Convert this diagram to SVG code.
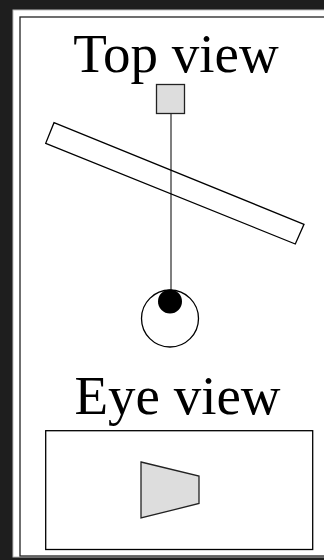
<svg xmlns="http://www.w3.org/2000/svg" width="324" height="560" viewBox="0 0 324 560">
<style>
.txt{font-family:"Liberation Serif","Times New Roman",serif;font-size:55px;fill:#000;text-anchor:middle}
.ln{fill:none;stroke:#000;stroke-width:1.3}
</style>
<rect x="0" y="0" width="324" height="560" fill="#1e1e1e"/>
<rect x="13" y="10" width="320" height="547" fill="#fff" stroke="#bbb" stroke-width="1"/>
<rect x="20" y="17" width="320" height="539" fill="none" stroke="#222" stroke-width="1.3"/>
<g id="title-top"><text class="txt" x="176" y="72">Top view</text></g>
<g id="connectors"><line x1="171" y1="113" x2="171" y2="298" stroke="#555" stroke-width="1.5"/></g>
<g id="object"><rect x="156.5" y="84.5" width="28" height="29" fill="#ddd" stroke="#222" stroke-width="1.3"/></g>
<g id="mirror"><polygon class="ln" points="54,122.7 304,224.3 295.3,244 45.7,143.3"/></g>
<g id="eye"><circle cx="170" cy="318.5" r="28.5" class="ln"/><circle cx="170" cy="301.5" r="12" fill="#000"/></g>
<g id="title-eye"><text class="txt" x="177.5" y="414">Eye view</text></g>
<g id="eye-view"><rect x="45.7" y="430.7" width="267" height="118.8" class="ln"/><polygon points="141,462 199,476 199,503.5 141,518" fill="#ddd" stroke="#222" stroke-width="1.3"/></g>
</svg>
